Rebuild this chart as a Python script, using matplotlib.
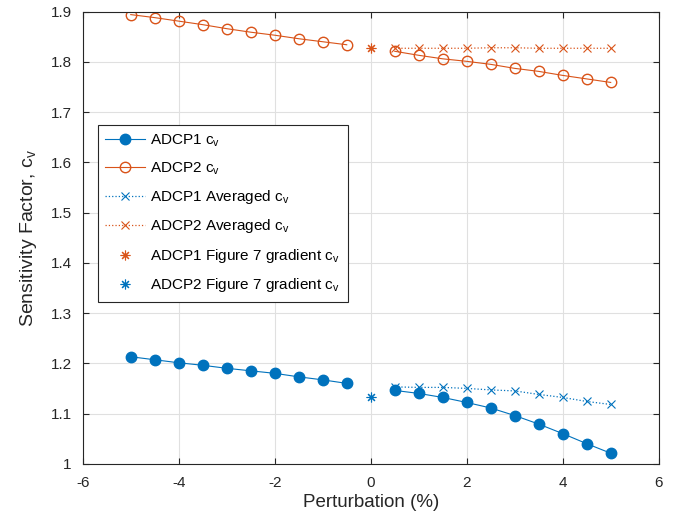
import matplotlib
matplotlib.use('Agg')
import matplotlib.pyplot as plt

plt.rcParams['font.family'] = ['Liberation Sans', 'DejaVu Sans']
plt.rcParams['mathtext.default'] = 'regular'
plt.rcParams['axes.unicode_minus'] = False

BLUE = '#0072BD'
ORANGE = '#D95319'
STAR = (8, 2, 0)

# perturbation (%)
x_neg = [-5, -4.5, -4, -3.5, -3, -2.5, -2, -1.5, -1, -0.5]
x_pos = [0.5, 1, 1.5, 2, 2.5, 3, 3.5, 4, 4.5, 5]

adcp1_neg = [1.213, 1.207, 1.201, 1.196, 1.190, 1.185, 1.180, 1.173, 1.167, 1.160]
adcp1_pos = [1.146, 1.140, 1.132, 1.122, 1.111, 1.096, 1.079, 1.060, 1.040, 1.021]
adcp2_neg = [1.894, 1.888, 1.881, 1.874, 1.866, 1.859, 1.853, 1.846, 1.840, 1.834]
adcp2_pos = [1.821, 1.813, 1.806, 1.801, 1.795, 1.787, 1.781, 1.773, 1.766, 1.759]

adcp1_avg = [1.153, 1.152, 1.152, 1.150, 1.147, 1.145, 1.138, 1.132, 1.124, 1.118]
adcp2_avg = [1.827, 1.827, 1.827, 1.827, 1.828, 1.828, 1.827, 1.827, 1.827, 1.827]

fig7_x = 0
fig7_adcp1 = 1.827
fig7_adcp2 = 1.133

fig = plt.figure(figsize=(6.84, 5.27), dpi=100)
ax = fig.add_axes([0.121, 0.12, 0.842, 0.858])

l1, = ax.plot(x_neg, adcp1_neg, '-o', color=BLUE, mfc=BLUE, mec=BLUE,
              ms=7.5, lw=0.8, label='ADCP1 c$_v$')
ax.plot(x_pos, adcp1_pos, '-o', color=BLUE, mfc=BLUE, mec=BLUE, ms=7.5, lw=0.8)
l2, = ax.plot(x_neg, adcp2_neg, '-o', color=ORANGE, mfc='none', mec=ORANGE,
              ms=7.5, lw=0.8, label='ADCP2 c$_v$')
ax.plot(x_pos, adcp2_pos, '-o', color=ORANGE, mfc='none', mec=ORANGE, ms=7.5, lw=0.8)
l3, = ax.plot(x_pos, adcp1_avg, ':x', color=BLUE, ms=5.5, lw=0.9, mew=0.8,
              label='ADCP1 Averaged c$_v$')
l4, = ax.plot(x_pos, adcp2_avg, ':x', color=ORANGE, ms=5.5, lw=0.9, mew=0.8,
              label='ADCP2 Averaged c$_v$')
l5, = ax.plot([fig7_x], [fig7_adcp1], marker=STAR, color=ORANGE, ms=7, mew=0.8,
              linestyle='none', label='ADCP1 Figure 7 gradient c$_v$')
l6, = ax.plot([fig7_x], [fig7_adcp2], marker=STAR, color=BLUE, ms=7, mew=0.8,
              linestyle='none', label='ADCP2 Figure 7 gradient c$_v$')

ax.set_xlim(-6, 6)
ax.set_ylim(1, 1.9)
ax.set_xticks([-6, -4, -2, 0, 2, 4, 6])
ax.set_yticks([1, 1.1, 1.2, 1.3, 1.4, 1.5, 1.6, 1.7, 1.8, 1.9])
ax.set_yticklabels(['1', '1.1', '1.2', '1.3', '1.4', '1.5', '1.6', '1.7', '1.8', '1.9'])
ax.grid(True, color='#e0e0e0', lw=0.8)
ax.tick_params(direction='in', length=4, labelsize=11, colors='#262626',
               top=True, right=True, labeltop=False, labelright=False)
ax.tick_params(axis='x', pad=9)
ax.tick_params(axis='y', pad=8)
for s in ax.spines.values():
    s.set_color('#262626')
    s.set_linewidth(0.8)

ax.set_xlabel('Perturbation (%)', fontsize=13.5, color='#262626', labelpad=3)
ax.set_ylabel('Sensitivity Factor, c$_v$', fontsize=14, color='#262626', labelpad=8)

leg = ax.legend(handles=[l1, l2, l3, l4, l5, l6], loc='upper left',
                bbox_to_anchor=(0.026, 0.75), fontsize=11, fancybox=False,
                edgecolor='#262626', framealpha=1, handlelength=2.6,
                labelspacing=0.75, borderpad=0.5, handletextpad=0.35,
                borderaxespad=0)
leg.get_frame().set_linewidth(0.8)

fig.savefig('out.png', dpi=100)
